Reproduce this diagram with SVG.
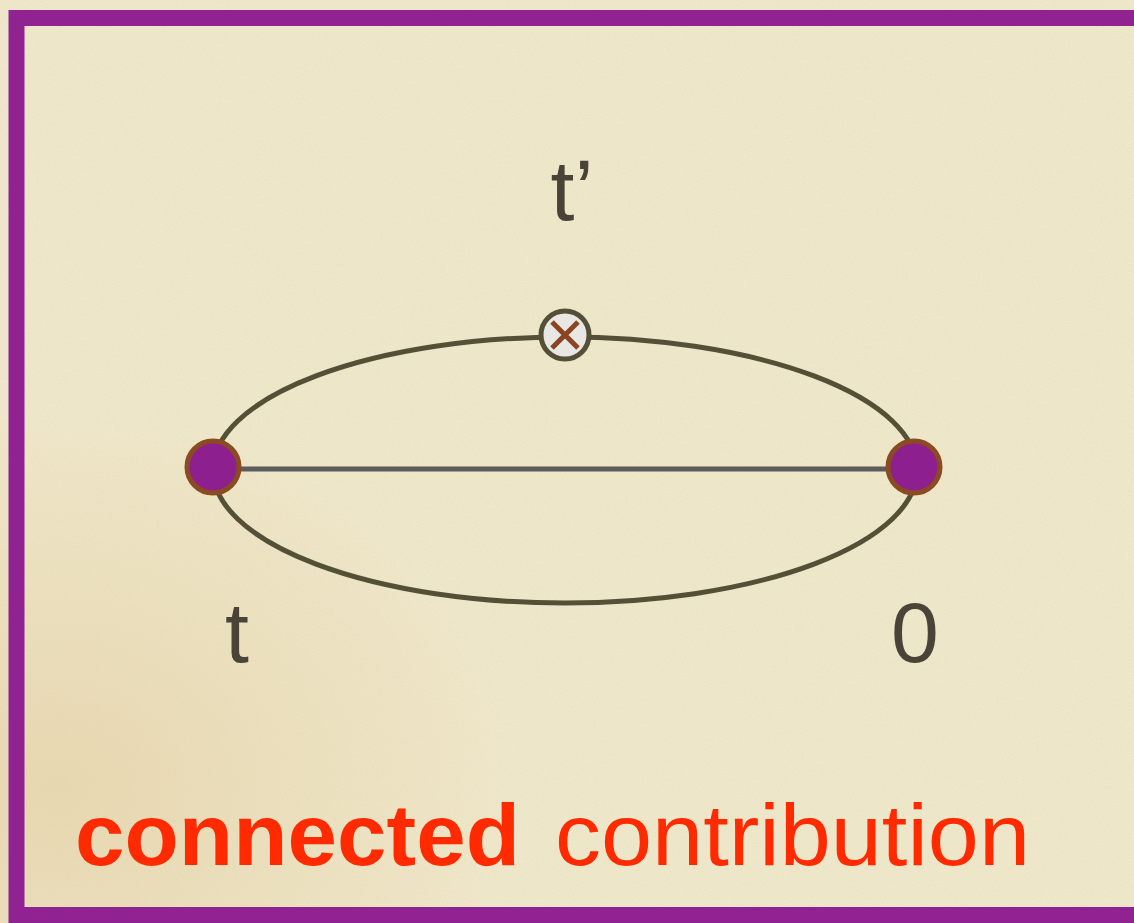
<svg xmlns="http://www.w3.org/2000/svg" width="1134" height="923" viewBox="0 0 1134 923">
<defs>
<style>
.lbl{font-family:"Liberation Sans",Arial,sans-serif;fill:#4a4438;font-size:86px}
.red{font-family:"Liberation Sans",Arial,sans-serif;fill:#ff2a00;font-size:88px}
.vtx{fill:#8e1f8e;stroke:#8a4a22;stroke-width:5}
.edge{fill:none;stroke:#545037;stroke-width:5}
</style>
<filter id="paper" x="0" y="0" width="100%" height="100%">
<feTurbulence type="fractalNoise" baseFrequency="0.9" numOctaves="2" seed="3" result="n"/>
<feColorMatrix in="n" type="matrix" values="0 0 0 0 0.55  0 0 0 0 0.5  0 0 0 0 0.35  0 0 0 0.22 0"/>
</filter>
<radialGradient id="stain" cx="0.05" cy="0.85" r="0.4">
<stop offset="0" stop-color="#e6cfa0" stop-opacity="0.6"/>
<stop offset="1" stop-color="#e6cfa0" stop-opacity="0"/>
</radialGradient>
</defs>
<rect width="1134" height="923" fill="#f3ebcd"/>
<rect width="1134" height="923" fill="url(#stain)"/>
<rect width="1134" height="923" filter="url(#paper)"/>
<rect x="16.5" y="18" width="1140" height="897" fill="none" stroke="#912291" stroke-width="16"/>
<g id="connectors">
<ellipse class="edge" cx="565" cy="470" rx="352" ry="133"/>
<line x1="213" y1="469" x2="913" y2="469" stroke="#5c5c5c" stroke-width="5"/>
</g>
<g id="node-t">
<circle class="vtx" cx="213" cy="467" r="26"/>
<text class="lbl" x="237" y="662" text-anchor="middle">t</text>
</g>
<g id="node-0">
<circle class="vtx" cx="914" cy="467" r="26"/>
<text class="lbl" x="915" y="662" text-anchor="middle">0</text>
</g>
<g id="node-tp">
<circle cx="565" cy="335" r="24" fill="#e8e7e4" stroke="#545037" stroke-width="5"/>
<path d="M552 322 L578 348 M578 322 L552 348" stroke="#8a4422" stroke-width="5" fill="none"/>
<text class="lbl" x="572" y="220" text-anchor="middle">t’</text>
</g>
<g id="caption">
<text class="red" x="75" y="865" font-weight="bold" textLength="445" lengthAdjust="spacingAndGlyphs">connected</text>
<text class="red" x="555" y="865" textLength="475" lengthAdjust="spacingAndGlyphs">contribution</text>
</g>
</svg>
